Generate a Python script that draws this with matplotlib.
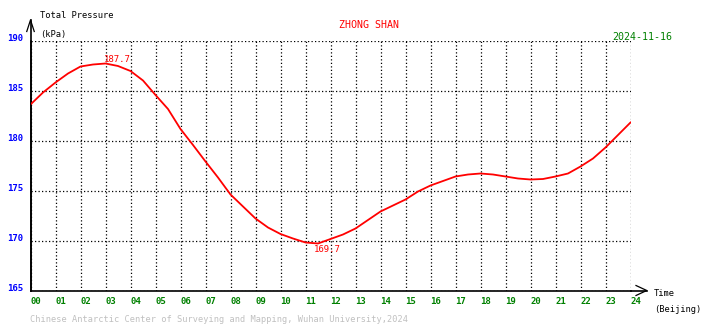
import numpy as np
import matplotlib.pyplot as plt

# half-hourly total pressure at Zhong Shan station, Beijing time
hours = np.arange(0, 24.5, 0.5)
pressure = [183.6, 184.8, 185.8, 186.7, 187.4, 187.6, 187.7, 187.45,
            186.95, 186.0, 184.55, 183.15, 181.15, 179.55, 177.9, 176.3,
            174.6, 173.4, 172.2, 171.3, 170.65, 170.2, 169.8, 169.7,
            170.15, 170.6, 171.2, 172.05, 172.9, 173.5, 174.1, 174.9,
            175.5, 175.95, 176.4, 176.6, 176.7, 176.6, 176.4, 176.2,
            176.1, 176.15, 176.4, 176.7, 177.4, 178.2, 179.3, 180.55, 181.8]

hour_ticks = list(range(0, 25))
hour_labels = ['%02d' % h for h in hour_ticks]
kpa_ticks = [165, 170, 175, 180, 185, 190]

station = 'ZHONG SHAN'
date = '2024-11-16'
credit = 'Chinese Antarctic Center of Surveying and Mapping, Wuhan University,2024'

W, H = 710, 328
MONO = 'DejaVu Sans Mono'


def px(x, y):
    return x / W, 1 - y / H


fig = plt.figure(figsize=(W / 100, H / 100), dpi=100)
ax = fig.add_axes([30.5 / W, (H - 290.5) / H, 600 / W, 250 / H])

ax.plot(hours, pressure, color='red', lw=1.3, zorder=3)
ax.set_xlim(0, 24)
ax.set_ylim(165, 190)

ax.set_xticks(hour_ticks, hour_labels)
ax.set_yticks(kpa_ticks, [str(v) for v in kpa_ticks])
ax.tick_params(axis='x', length=0, pad=5, labelsize=6.5, labelcolor='green')
ax.tick_params(axis='y', length=0, pad=5, labelsize=6.5, labelcolor='blue')
for lab in ax.get_xticklabels():
    lab.set_ha('left')
    lab.set_family(MONO)
    lab.set_weight('bold')
for lab in ax.get_yticklabels():
    lab.set_va('baseline')
    lab.set_family(MONO)
    lab.set_weight('bold')

ax.grid(True, color='black', linestyle=(0, (1, 1.8)), lw=0.9)
for side in ['top', 'right']:
    ax.spines[side].set_visible(False)
for side in ['left', 'bottom']:
    ax.spines[side].set_linewidth(1.2)
    ax.spines[side].set_color('black')

# axis arrows
ax.plot([0, 0], [165, 192.05], color='black', lw=1.2, clip_on=False)
ax.plot([-0.15, 0, 0.15], [190.9, 192.05, 190.9], color='black', lw=0.9,
        clip_on=False)
ax.plot([24, 24.65], [165, 165], color='black', lw=1.2, clip_on=False)
ax.plot([24.22, 24.65, 24.22], [165.5, 165, 164.5], color='black', lw=0.9,
        clip_on=False)

# max / min labels
imax = int(np.argmax(pressure))
imin = int(np.argmin(pressure))
ax.annotate('%.1f' % pressure[imax], (hours[imax], pressure[imax]),
            xytext=(-1, 0), textcoords='offset points', ha='left',
            va='bottom', color='red', fontsize=6.5, family=MONO)
ax.annotate('%.1f' % pressure[imin], (hours[imin], pressure[imin]),
            xytext=(-3, -1), textcoords='offset points', ha='left',
            va='top', color='red', fontsize=6.5, family=MONO)

fig.text(*px(40, 16), 'Total Pressure', fontsize=6.3, family=MONO,
         va='center', ha='left')
fig.text(*px(40, 34), '(kPa)', fontsize=6.3, family=MONO, va='center',
         ha='left')
fig.text(*px(369, 25), station, fontsize=7.2, family=MONO, color='red',
         va='center', ha='center')
fig.text(*px(672, 37), date, fontsize=7.2, family=MONO, color='green',
         va='center', ha='right')
fig.text(*px(654, 294), 'Time', fontsize=6.3, family=MONO, va='center',
         ha='left')
fig.text(*px(654, 310), '(Beijing)', fontsize=6.3, family=MONO, va='center',
         ha='left')
fig.text(*px(30, 320), credit, fontsize=6.2, family=MONO, color='#c0c0c0',
         va='center', ha='left')

fig.savefig('out.png', dpi=100)
